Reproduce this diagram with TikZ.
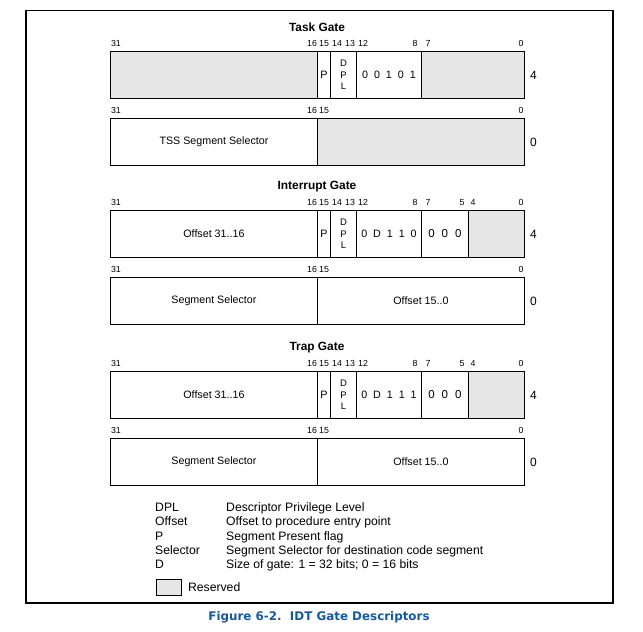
\documentclass[tikz,border=0pt]{standalone}
\usepackage{fontspec}
\setmainfont{Liberation Sans}
\newfontfamily\capfont{DejaVu Sans}
\usetikzlibrary{positioning}
\definecolor{resgray}{RGB}{230,230,230}
\definecolor{figblue}{RGB}{20,88,168}

\tikzset{
  field/.style={draw, line width=0.9pt, minimum height=47pt, inner sep=0pt,
    anchor=north west, font=\fontsize{10.7}{12}\selectfont},
  res/.style={field, fill=resgray},
  bitno/.style={inner sep=0pt, anchor=base, font=\fontsize{8.8}{9}\selectfont},
  gatetitle/.style={inner sep=0pt, font=\bfseries\fontsize{11.9}{13}\selectfont},
  dwno/.style={inner sep=0pt, font=\fontsize{12}{13}\selectfont},
  legend/.style={inner sep=0pt, anchor=base west, font=\fontsize{12.2}{13}\selectfont},
}

\begin{document}
\begin{tikzpicture}[x=1pt,y=-1pt]
\useasboundingbox (0,0) rectangle (643,632);
\draw[line width=1.2pt] (26,10.5) rectangle (613,603);

% task gate
\node[gatetitle] (titlet) at (317,27) {Task Gate};
\foreach \b/\x in {31/116,16/312,15/324,14/337,13/350,12/363,8/415,7/428,0/521}
	\node[bitno] (t1n\b) at (\x,46.2) {\b};
\node[res, minimum width=207pt] (t1a) at (110,51) {};
\node[field, minimum width=13pt] (t1b) at (317,51) {P};
\node[field, minimum width=26pt, align=center, font=\fontsize{9.5}{11.5}\selectfont] (t1c) at (330,51) {D\\P\\L};
\node[field, minimum width=65pt] (t1d) at (356,51) {0~~0~~1~~0~~1};
\node[res, minimum width=103pt] (t1e) at (421,51) {};
\node[dwno, right=5pt of t1e] (t1w) {4};

\foreach \b/\x in {31/116,16/312,15/324,0/521}
	\node[bitno] (t2n\b) at (\x,113.2) {\b};
\node[field, minimum width=207pt] (t2a) at (110,118) {TSS Segment Selector};
\node[res, minimum width=207pt] (t2b) at (317,118) {};
\node[dwno, right=5pt of t2b] (t2w) {0};

% interrupt and trap gates
\foreach \g/\y/\gname/\bits in {i/210/Interrupt Gate/0~~D~~1~~1~~0, p/371/Trap Gate/0~~D~~1~~1~~1} {
	\node[gatetitle] (title\g) at (317,\y-23) {\gname};
	\foreach \b/\x in {31/116,16/312,15/324,14/337,13/350,12/363,8/415,7/428,5/462,4/473,0/521}
		\node[bitno] (\g1n\b) at (\x,\y-4.8) {\b};
	\node[field, minimum width=207pt] (\g1a) at (110,\y) {Offset 31..16};
	\node[field, minimum width=13pt] (\g1b) at (317,\y) {P};
	\node[field, minimum width=26pt, align=center, font=\fontsize{9.5}{11.5}\selectfont] (\g1c) at (330,\y) {D\\P\\L};
	\node[field, minimum width=65pt] (\g1d) at (356,\y) {\bits};
	\node[field, minimum width=47pt, font=\fontsize{11.5}{12}\selectfont] (\g1e) at (421,\y) {0\hspace{7pt}0\hspace{7pt}0};
	\node[res, minimum width=56pt] (\g1f) at (468,\y) {};
	\node[dwno, right=5pt of \g1f] (\g1w) {4};

	\foreach \b/\x in {31/116,16/312,15/324,0/521}
		\node[bitno] (\g2n\b) at (\x,\y+62.2) {\b};
	\node[field, minimum width=207pt] (\g2a) at (110,\y+67) {Segment Selector};
	\node[field, minimum width=207pt] (\g2b) at (317,\y+67) {Offset 15..0};
	\node[dwno, right=5pt of \g2b] (\g2w) {0};
}

% legend
\foreach \k/\v [count=\n] in {DPL/Descriptor Privilege Level, Offset/Offset to procedure entry point,
		P/Segment Present flag, Selector/Segment Selector for destination code segment,
		D/Size of gate: 1 = 32 bits; 0 = 16 bits} {
	\node[legend] (key\n) at (155,511.5+14.3*\n-14.3) {\k};
	\node[legend] (desc\n) at (226,511.5+14.3*\n-14.3) {\v};
}
\node[draw, fill=resgray, line width=0.9pt, minimum width=25pt, minimum height=16pt,
	anchor=north west] (resbox) at (156,579) {};
\node[legend, anchor=west, right=6pt of resbox] (restext) {Reserved};

\node[text=figblue, font=\capfont\bfseries\fontsize{11.9}{13}\selectfont] (caption) at (319,617)
	{Figure 6-2.\ \ IDT Gate Descriptors};
\end{tikzpicture}
\end{document}
